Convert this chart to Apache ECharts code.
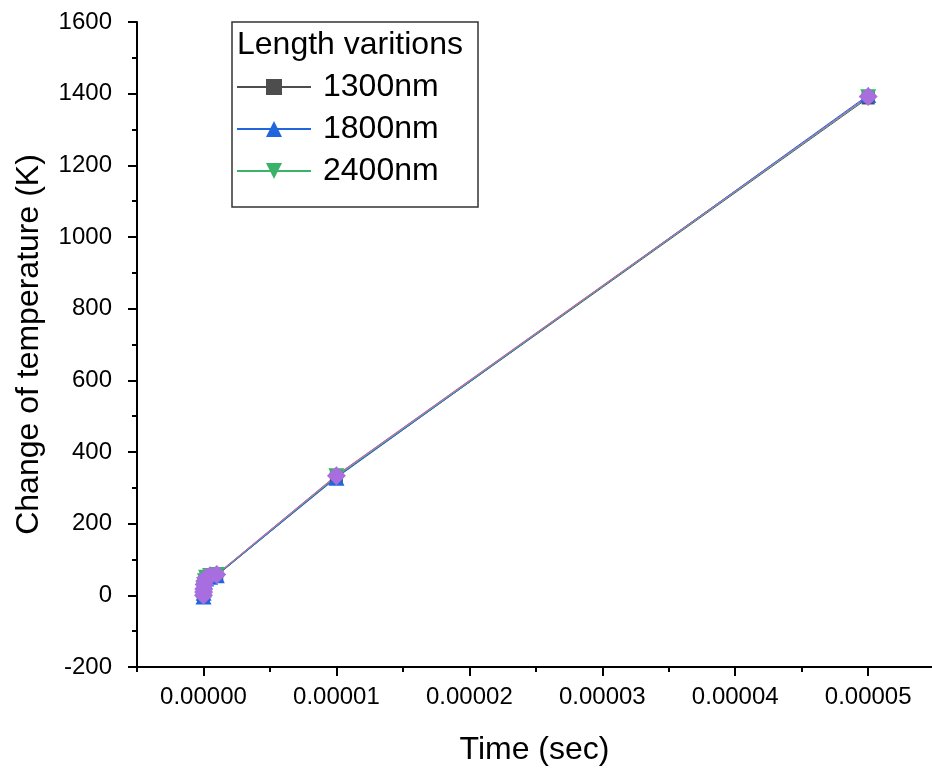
<!DOCTYPE html>
<html>
<head>
<meta charset="utf-8">
<script src="https://cdn.jsdelivr.net/npm/echarts@6/dist/echarts.min.js"></script>
<style>
  html, body { margin: 0; padding: 0; background: #fff; }
  #chart { width: 932px; height: 776px; }
</style>
</head>
<body>
<div id="chart"></div>
<script>
// Time samples (s) shared by every run
const times = [0, 1e-8, 2e-8, 5e-8, 1e-7, 2e-7, 5e-7, 1e-6, 1e-5, 5e-5];

// Temperature change (K) per device length
const dT1300 = [0, 8, 17, 29, 39, 48, 53, 55, 330, 1388];
const dTrun2 = [0, 9, 18, 31, 41, 51, 56, 59, 335, 1393];
const dT1800 = [-3, 7, 16, 28, 38, 47, 52, 56, 328, 1396];
const dT2400 = [-1, 8, 17, 29, 39, 49, 54, 57, 332, 1390];
const dTrun5 = [0, 9, 18, 30, 40, 50, 55, 58, 334, 1392];

// Axis ticks
const xMajorTicks = [0, 0.00001, 0.00002, 0.00003, 0.00004, 0.00005];
const xMinorTicks = [-0.000005, 0.000005, 0.000015, 0.000025, 0.000035, 0.000045];
const legendNames = ['1300nm', '1800nm', '2400nm'];
const legendTitle = 'Length varitions';

const FONT = 'Liberation Sans, Arial, sans-serif';

function pairs(ys) {
  return times.map((t, i) => [t, ys[i]]);
}

function run(name, ys, color, symbol, size) {
  return {
    name: name,
    type: 'line',
    data: pairs(ys),
    symbol: symbol,
    symbolSize: size,
    lineStyle: { color: color, width: 1 },
    itemStyle: { color: color },
    emphasis: { disabled: true },
    animation: false,
    clip: false
  };
}

const chart = echarts.init(document.getElementById('chart'), null, { renderer: 'canvas' });

chart.setOption({
  backgroundColor: '#fff',
  animation: false,
  grid: { left: 137, right: 0, top: 22, bottom: 109, containLabel: false, outerBoundsMode: 'none' },
  xAxis: [{
    type: 'value',
    min: -0.000005,
    max: 0.0000548,
    name: 'Time (sec)',
    nameLocation: 'middle',
    nameGap: 67,
    nameTextStyle: { fontFamily: FONT, fontSize: 32, color: '#000' },
    axisLine: { show: true, onZero: false, lineStyle: { color: '#000', width: 2 } },
    axisTick: { show: true, inside: false, length: 9, customValues: xMajorTicks, lineStyle: { color: '#000', width: 2 } },
    axisLabel: {
      show: true, margin: 18, customValues: xMajorTicks,
      fontFamily: FONT, fontSize: 24, color: '#000',
      formatter: v => Number(v).toFixed(5)
    },
    splitLine: { show: false }
  }, {
    type: 'value',
    position: 'bottom',
    min: -0.000005,
    max: 0.0000548,
    axisLine: { show: false, onZero: false },
    axisTick: { show: true, inside: false, length: 5, customValues: xMinorTicks, lineStyle: { color: '#000', width: 2 } },
    axisLabel: { show: false },
    splitLine: { show: false }
  }],
  yAxis: {
    type: 'value',
    min: -200,
    max: 1600,
    interval: 200,
    name: 'Change of temperature (K)',
    nameLocation: 'middle',
    nameGap: 92,
    nameTextStyle: { fontFamily: FONT, fontSize: 32, color: '#000' },
    axisLine: { show: true, onZero: false, lineStyle: { color: '#000', width: 2 } },
    axisTick: { show: true, inside: false, length: 9, lineStyle: { color: '#000', width: 2 } },
    minorTick: { show: true, splitNumber: 2, length: 5, lineStyle: { color: '#000', width: 2 } },
    axisLabel: { margin: 25, fontFamily: FONT, fontSize: 24, color: '#000', formatter: v => String(v) },
    splitLine: { show: false }
  },
  legend: {
    data: legendNames,
    orient: 'vertical',
    left: 236,
    top: 71,
    padding: 0,
    itemWidth: 74,
    itemHeight: 20,
    itemGap: 10,
    selectedMode: false,
    textStyle: { fontFamily: FONT, fontSize: 32, lineHeight: 32, color: '#000', padding: [0, 0, 0, 7] }
  },
  graphic: [{
    type: 'rect',
    shape: { x: 232, y: 22, width: 246, height: 185 },
    style: { fill: 'rgba(0,0,0,0)', stroke: '#333', lineWidth: 1.5 },
    z: 100
  }, {
    type: 'text',
    left: 237,
    top: 29,
    style: { text: legendTitle, fontFamily: FONT, fontSize: 32, fill: '#000' },
    z: 100
  }],
  series: [
    run('1300nm', dT1300, '#4d4d4d', 'rect', 13),
    run('run 2', dTrun2, '#e0403a', 'circle', 14),
    run('1800nm', dT1800, '#2266dd', 'triangle', 16),
    run('2400nm', dT2400, '#3bb26a', 'path://M0,0 L2,0 L1,2 Z', 16),
    run('run 5', dTrun5, '#a86ee0', 'diamond', 19)
  ]
});
</script>
</body>
</html>
